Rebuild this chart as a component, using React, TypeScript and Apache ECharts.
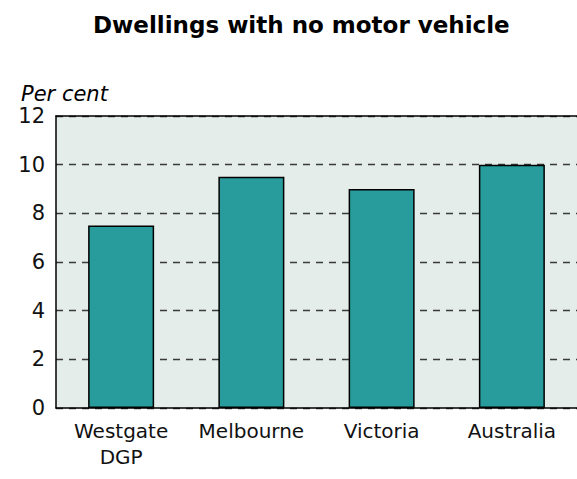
import React, { useEffect, useRef } from "react";
import * as echarts from "echarts";

const categories = ["Westgate\nDGP", "Melbourne", "Victoria", "Australia"];
const values = [7.5, 9.5, 9, 10];
const yTicks = { min: 0, max: 12, interval: 2 };
const titleText = "Dwellings with no motor vehicle";
const unitText = "Per cent";

export default function App() {
  const ref = useRef<HTMLDivElement>(null);
  useEffect(() => {
    if (!ref.current) return;
    const chart = echarts.init(ref.current, null, { renderer: "svg" });
    const font = "DejaVu Sans";
    chart.setOption({
      animation: false,
      backgroundColor: "#ffffff",
      title: [
        {
          text: titleText,
          left: 88,
          top: 8,
          textStyle: { fontFamily: font, fontSize: 23, fontWeight: "bold", color: "#000" },
        },
        {
          text: unitText,
          left: 16,
          top: 78,
          textStyle: { fontFamily: font, fontSize: 21, fontStyle: "italic", fontWeight: "normal", color: "#000" },
        },
      ],
      grid: {
        left: 56,
        top: 116,
        right: 0,
        bottom: 71,
        show: true,
        backgroundColor: "#e4edea",
        borderWidth: 0,
      },
      xAxis: [
        {
          type: "category",
          data: categories,
          axisLine: { show: true, lineStyle: { color: "#000", width: 1.5 } },
          axisTick: { show: false },
          axisLabel: {
            fontFamily: font,
            fontSize: 20,
            color: "#111",
            margin: 10,
            lineHeight: 26,
            interval: 0,
          },
        },
        {
          type: "category",
          data: categories,
          position: "top",
          axisLine: { show: true, lineStyle: { color: "#000", width: 1.5 } },
          axisTick: { show: false },
          axisLabel: { show: false },
        },
      ],
      yAxis: {
        type: "value",
        min: yTicks.min,
        max: yTicks.max,
        interval: yTicks.interval,
        axisLine: { show: true, lineStyle: { color: "#000", width: 1.5 } },
        axisTick: { show: false },
        axisLabel: { fontFamily: font, fontSize: 21, color: "#111", margin: 11 },
        splitLine: { show: true, lineStyle: { color: "#3a3a3a", width: 1.3, type: [7, 6] } },
      },
      series: [
        {
          type: "bar",
          data: values,
          barWidth: 66,
          itemStyle: { color: "#289c9c", borderColor: "#000", borderWidth: 1.5 },
        },
      ],
    });
    return () => chart.dispose();
  }, []);
  return (
    <div
      ref={ref}
      style={{ position: "fixed", left: 0, top: 0, width: 577, height: 479 }}
    />
  );
}
